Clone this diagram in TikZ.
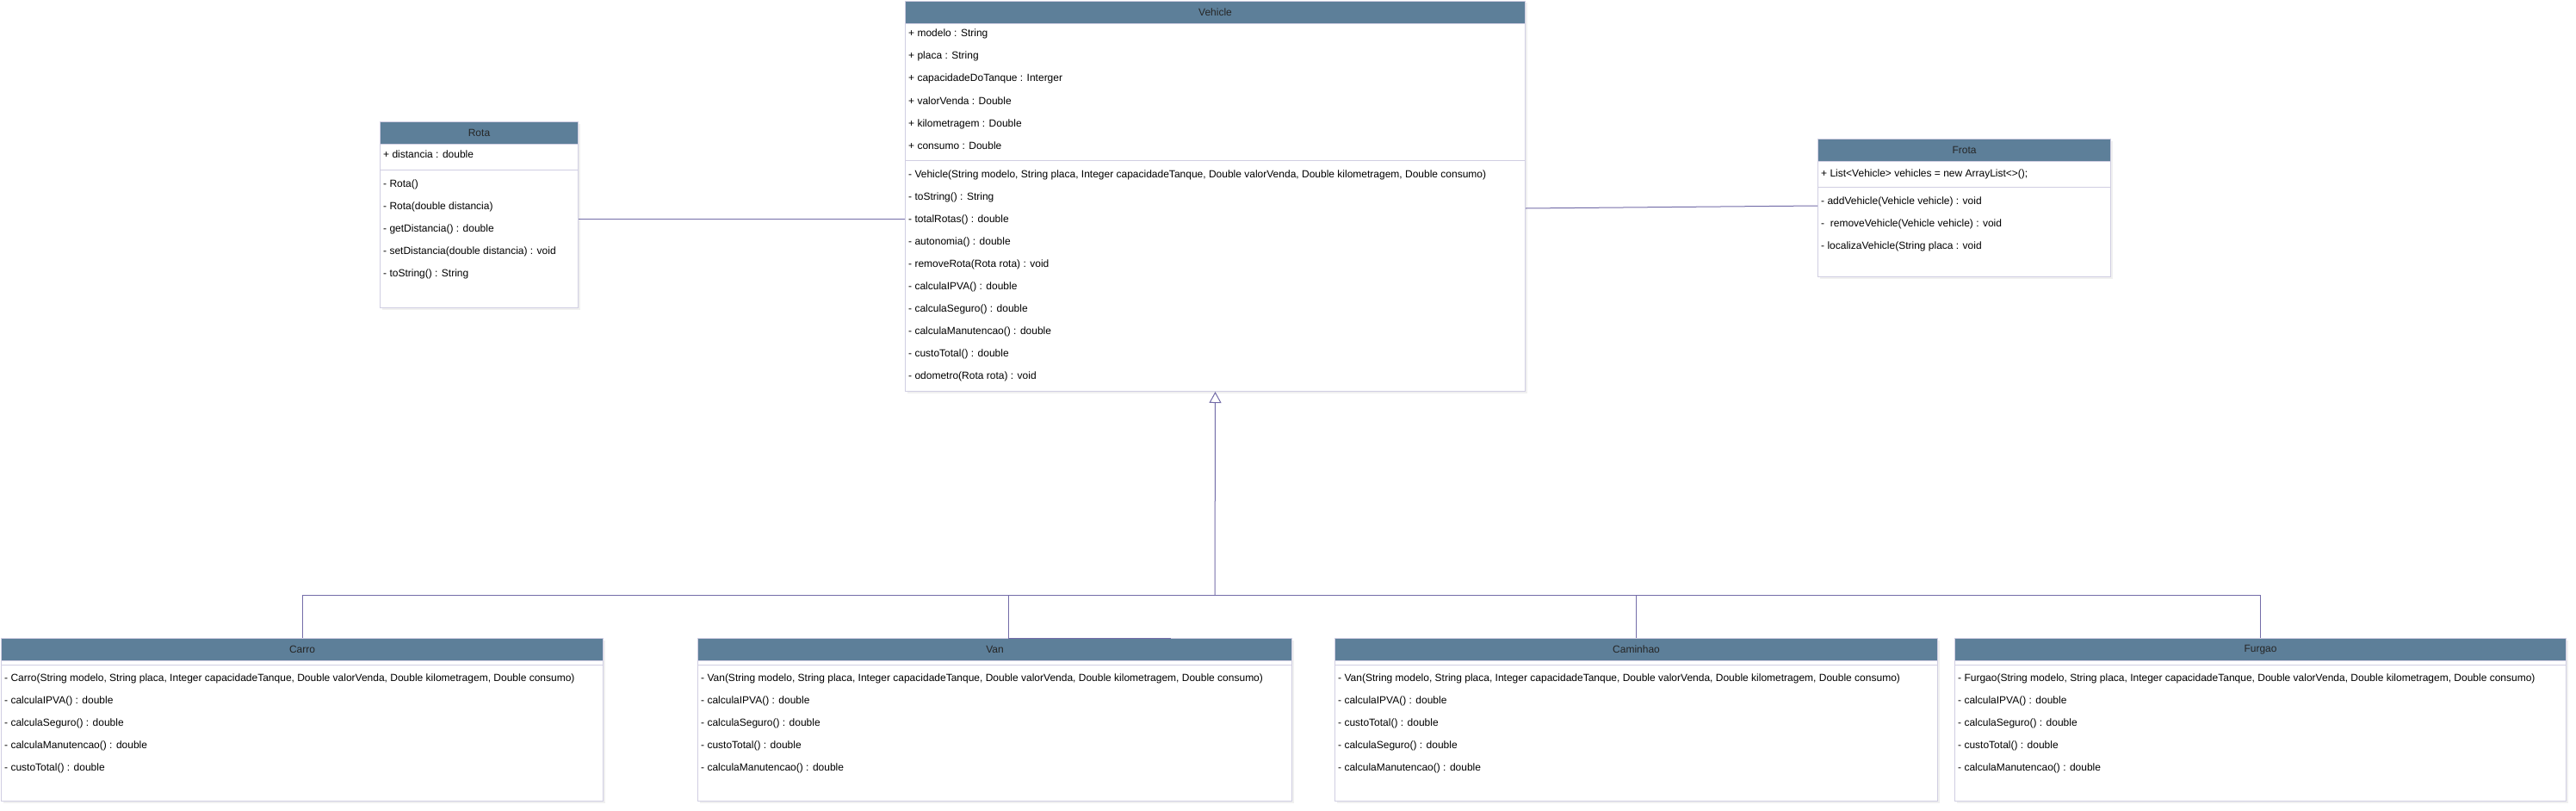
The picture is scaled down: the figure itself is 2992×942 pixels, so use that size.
\documentclass[tikz,border=0pt]{standalone}
\usepackage{fontspec}
\setmainfont{Liberation Sans}
\usetikzlibrary{arrows.meta,shadows}
\definecolor{hdrblue}{HTML}{5D7F99}
\definecolor{boxline}{HTML}{D0CEE2}
\definecolor{linkline}{HTML}{736CA8}
\begin{document}
\begin{tikzpicture}[x=1pt, y=-1pt,
  classbox/.style={draw=boxline, line width=1pt, fill=white, anchor=north west, inner sep=0,
    drop shadow={shadow xshift=2pt, shadow yshift=-2pt, opacity=0.12}},
  header/.style={draw=boxline, line width=1pt, fill=hdrblue, anchor=north west, minimum height=26pt,
    inner sep=0, text=black!85, font=\fontsize{12}{14}\selectfont},
  member/.style={anchor=west, inner sep=0, text height=9pt, text depth=3pt,
    font=\fontsize{12}{14}\selectfont},
  divider/.style={draw=boxline, line width=1pt},
  link/.style={draw=linkline, line width=1pt}]
\useasboundingbox (0,0) rectangle (2992,942);

% Rota
\node[classbox, minimum width=230, minimum height=216] (rota) at (441,141) {};
\node[header, minimum width=230] (rotahead) at (rota.north west) {Rota};
\node[member] (rotaa1) at (445,180) {+ distancia : double};
\draw[divider] (rota.west |- 0,197) -- (rota.east |- 0,197);
\foreach \m [count=\i] in {- Rota(), - Rota(double distancia), - getDistancia() : double,
    - setDistancia(double distancia) : void, - toString() : String}
  \node[member] (rotam\i) at (445,{188+26*\i}) {\m};

% Vehicle
\node[classbox, minimum width=720, minimum height=453] (vehicle) at (1051,1) {};
\node[header, minimum width=720] (vehiclehead) at (vehicle.north west) {Vehicle};
\foreach \a [count=\i] in {+ modelo : String, + placa : String, + capacidadeDoTanque : Interger,
    + valorVenda : Double, + kilometragem : Double, + consumo : Double}
  \node[member] (vehiclea\i) at (1055,{14+26*\i}) {\a};
\draw[divider] (vehicle.west |- 0,186) -- (vehicle.east |- 0,186);
\foreach \m [count=\i] in {{- Vehicle(String modelo, String placa, Integer capacidadeTanque, Double valorVenda, Double kilometragem, Double consumo)},
    - toString() : String, - totalRotas() : double, - autonomia() : double, - removeRota(Rota rota) : void,
    - calculaIPVA() : double, - calculaSeguro() : double, - calculaManutencao() : double,
    - custoTotal() : double, - odometro(Rota rota) : void}
  \node[member] (vehiclem\i) at (1055,{177+26*\i}) {\m};

% Frota
\node[classbox, minimum width=340, minimum height=160] (frota) at (2111,161) {};
\node[header, minimum width=340] (frotahead) at (frota.north west) {Frota};
\node[member] (frotaa1) at (2115,202) {+ List<Vehicle> vehicles = new ArrayList<>();};
\draw[divider] (frota.west |- 0,217) -- (frota.east |- 0,217);
\foreach \m [count=\i] in {- addVehicle(Vehicle vehicle) : void, -\ \ removeVehicle(Vehicle vehicle) : void,
    - localizaVehicle(String placa : void}
  \node[member] (frotam\i) at (2115,{208+26*\i}) {\m};

% subclasses
\foreach \cls/\clsname/\bx/\bw in {carro/Carro/1/699, van/Van/810/690, caminhao/Caminhao/1550/700, furgao/Furgao/2270/710}
{
  \node[classbox, minimum width=\bw, minimum height=189] (\cls) at (\bx,741) {};
  \node[header, minimum width=\bw] (\cls head) at (\cls.north west) {\clsname};
  \draw[divider] (\cls.west |- 0,772) -- (\cls.east |- 0,772);
}
\foreach \m [count=\i] in {{- Carro(String modelo, String placa, Integer capacidadeTanque, Double valorVenda, Double kilometragem, Double consumo)},
    - calculaIPVA() : double, - calculaSeguro() : double, - calculaManutencao() : double, - custoTotal() : double}
  \node[member] (carrom\i) at (5,{762+26*\i}) {\m};
\foreach \m [count=\i] in {{- Van(String modelo, String placa, Integer capacidadeTanque, Double valorVenda, Double kilometragem, Double consumo)},
    - calculaIPVA() : double, - calculaSeguro() : double, - custoTotal() : double, - calculaManutencao() : double}
  \node[member] (vanm\i) at (814,{762+26*\i}) {\m};
\foreach \m [count=\i] in {{- Van(String modelo, String placa, Integer capacidadeTanque, Double valorVenda, Double kilometragem, Double consumo)},
    - calculaIPVA() : double, - custoTotal() : double, - calculaSeguro() : double, - calculaManutencao() : double}
  \node[member] (caminhaom\i) at (1554,{762+26*\i}) {\m};
\foreach \m [count=\i] in {{- Furgao(String modelo, String placa, Integer capacidadeTanque, Double valorVenda, Double kilometragem, Double consumo)},
    - calculaIPVA() : double, - calculaSeguro() : double, - custoTotal() : double, - calculaManutencao() : double}
  \node[member] (furgaom\i) at (2274,{762+26*\i}) {\m};

% associations
\draw[link] (rota.east |- 0,254) -- (vehicle.west |- 0,254);
\draw[link] (vehicle.east |- 0,242) -- (frota.west |- 0,239);

% inheritance
\coordinate (bus) at (1411,691);
\coordinate (vanjoin) at (1171,741);
\draw[link, -{Triangle[open, fill=white, length=13pt, width=14pt]}] (bus) -- (vehicle.south);
\draw[link] (carro.north) |- (bus);
\draw[link] (furgao.north) |- (bus);
\draw[link] (caminhao.north) |- (bus);
\draw[link] (vanjoin) |- (bus);
\draw[link] (vanjoin) -- ++(189,0);

\end{tikzpicture}
\end{document}
